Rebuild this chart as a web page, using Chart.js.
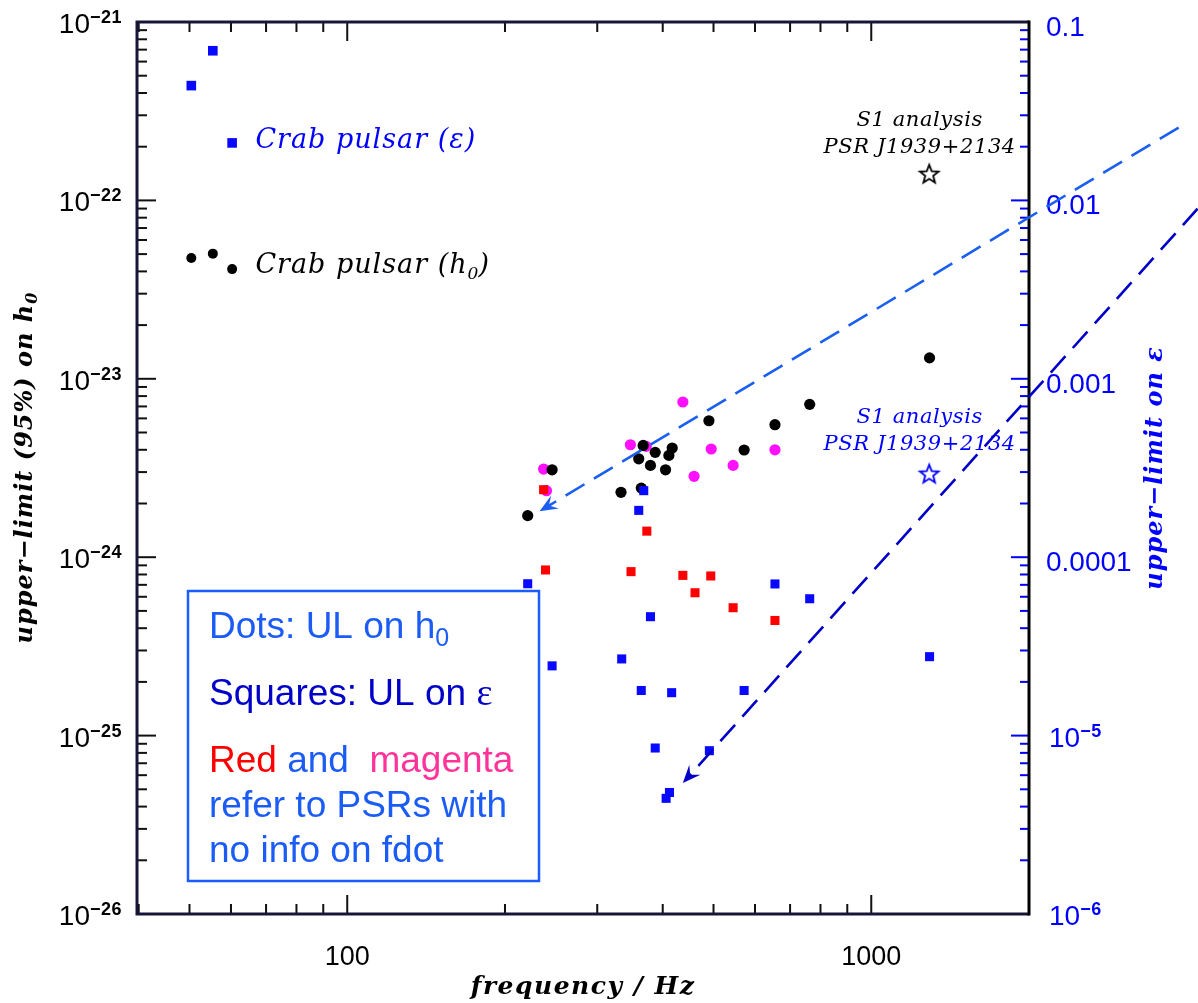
<!DOCTYPE html>
<html>
<head>
<meta charset="utf-8">
<script src="https://cdn.jsdelivr.net/npm/chart.js@4.4.0/dist/chart.umd.min.js"></script>
<style>
  body { margin: 0; background: #fff; }
  canvas { display: block; }
</style>
</head>
<body>
<canvas id="chart" width="1198" height="1003"></canvas>
<script>
// values: frequency in Hz, h0 upper limits, epsilon upper limits
const crabFreq = [50.4, 55.4, 60.3];
const crabH0 = [4.75e-23, 5.03e-23, 4.12e-23];
const crabEps = [0.044, 0.069, 0.021];

const dotFreq = [221, 246, 333, 364, 360, 367, 379, 387, 405, 411, 417, 490, 572, 655, 763, 1292];
const dotH0 = [1.71e-24, 3.09e-24, 2.31e-24, 2.44e-24, 3.56e-24, 4.23e-24, 3.27e-24, 3.87e-24,
               3.09e-24, 3.72e-24, 4.09e-24, 5.82e-24, 3.99e-24, 5.53e-24, 7.19e-24, 1.31e-23];

const magFreq = [237, 240, 347, 372, 437, 459, 495, 545, 655];
const magH0 = [3.12e-24, 2.36e-24, 4.27e-24, 4.18e-24, 7.41e-24, 2.84e-24, 4.04e-24, 3.27e-24, 4.00e-24];

const redFreq = [237, 373, 239, 348, 437, 494, 461, 545, 655];
const redEps = [2.39e-4, 1.40e-4, 8.48e-5, 8.30e-5, 7.91e-5, 7.85e-5, 6.32e-5, 5.21e-5, 4.42e-5];

const sqFreq = [368, 360, 221, 655, 763, 379, 246, 334, 364, 416, 572, 387, 491, 412, 406, 1292];
const sqEps = [2.36e-4, 1.83e-4, 7.10e-5, 7.08e-5, 5.85e-5, 4.64e-5, 2.46e-5, 2.69e-5,
               1.79e-5, 1.74e-5, 1.79e-5, 8.52e-6, 8.23e-6, 4.80e-6, 4.45e-6, 2.77e-5];

const s1Freq = [1290];
const s1H0 = [1.41e-22];
const s1Eps = [2.94e-4];

// axis ranges and labels
const freqRange = [39.7, 2000];
const h0Range = [1e-26, 1e-21];
const epsRange = [1e-6, 0.1];
const freqLabels = [100, 1000];
const h0Exponents = [-21, -22, -23, -24, -25, -26];
const epsValues = [0.1, 0.01, 0.001, 0.0001, 1e-5, 1e-6];
const epsLabels = ['0.1', '0.01', '0.001', '0.0001', '10^−5', '10^−6'];

// dashed arrows (data coords, h0 axis)
const arrowWide = [[3860, 2.56e-22], [232.8, 1.81e-24]];
const arrowSteep = [[4195, 8.98e-23], [437, 5.42e-26]];

const pts = (xs, ys) => xs.map((x, i) => ({ x: x, y: ys[i] }));

function starImage(color) {
  const c = document.createElement('canvas');
  c.width = 24; c.height = 24;
  const g = c.getContext('2d');
  g.strokeStyle = color;
  g.lineWidth = 1.8;
  g.beginPath();
  for (let i = 0; i < 10; i++) {
    const r = i % 2 ? 4.2 : 9.8;
    const a = -Math.PI / 2 + i * Math.PI / 5;
    const px = 12 + r * Math.cos(a), py = 12.8 + r * Math.sin(a);
    if (i) g.lineTo(px, py); else g.moveTo(px, py);
  }
  g.closePath();
  g.stroke();
  return c;
}

function logTicks(min, max) {
  const out = [];
  for (let e = Math.floor(Math.log10(min)); e <= Math.ceil(Math.log10(max)); e++) {
    for (let m = 1; m <= 9; m++) {
      const v = m * Math.pow(10, e);
      if (v >= min * 0.999 && v <= max * 1.001) out.push({ v: v, major: m === 1 });
    }
  }
  return out;
}

function drawArrow(ctx, x0, y0, x1, y1, color) {
  const ang = Math.atan2(y1 - y0, x1 - x0);
  const cos = Math.cos(ang), sin = Math.sin(ang);
  const L = 18, W = 7.5, N = 11;
  ctx.save();
  ctx.strokeStyle = color;
  ctx.fillStyle = color;
  ctx.lineWidth = 2.6;
  ctx.setLineDash([22, 11]);
  ctx.beginPath();
  ctx.moveTo(x0, y0);
  ctx.lineTo(x1 - cos * N, y1 - sin * N);
  ctx.stroke();
  ctx.setLineDash([]);
  const bx = x1 - cos * L, by = y1 - sin * L;
  ctx.beginPath();
  ctx.moveTo(x1, y1);
  ctx.lineTo(bx - sin * W, by + cos * W);
  ctx.lineTo(x1 - cos * N, y1 - sin * N);
  ctx.lineTo(bx + sin * W, by - cos * W);
  ctx.closePath();
  ctx.fill();
  ctx.restore();
}

// draws [text, font, dy, color, spacing] pieces one after another
function drawParts(ctx, x, y, parts, align) {
  let total = 0;
  parts.forEach(p => {
    ctx.font = p[1];
    ctx.letterSpacing = (p[4] || 0) + 'px';
    p.w = ctx.measureText(p[0]).width;
    total += p.w;
  });
  let xx = align === 'center' ? x - total / 2 : align === 'right' ? x - total : x;
  parts.forEach(p => {
    ctx.font = p[1];
    ctx.letterSpacing = (p[4] || 0) + 'px';
    ctx.fillStyle = p[3];
    ctx.fillText(p[0], xx, y + p[2]);
    xx += p.w;
  });
  ctx.letterSpacing = '0px';
}

const decor = {
  id: 'decor',
  afterDraw(chart) {
    const { ctx, chartArea: a, scales } = chart;
    const xs = scales.x, ys = scales.y, ys2 = scales.y2;
    ctx.save();
    ctx.textAlign = 'left';
    ctx.textBaseline = 'alphabetic';

    // inward tick marks
    ctx.lineWidth = 2;
    ctx.strokeStyle = '#111';
    logTicks(freqRange[0], freqRange[1]).forEach(t => {
      const px = xs.getPixelForValue(t.v);
      const len = t.major ? 19 : 10;
      ctx.beginPath();
      ctx.moveTo(px, a.bottom); ctx.lineTo(px, a.bottom - len);
      ctx.moveTo(px, a.top); ctx.lineTo(px, a.top + len);
      ctx.stroke();
    });
    logTicks(h0Range[0], h0Range[1]).forEach(t => {
      const py = ys.getPixelForValue(t.v);
      ctx.beginPath();
      ctx.moveTo(a.left, py); ctx.lineTo(a.left + (t.major ? 19 : 10), py);
      ctx.stroke();
    });
    ctx.strokeStyle = '#0000ff';
    logTicks(epsRange[0], epsRange[1]).forEach(t => {
      const py = ys2.getPixelForValue(t.v);
      ctx.beginPath();
      ctx.moveTo(a.right, py); ctx.lineTo(a.right - (t.major ? 18 : 9), py);
      ctx.stroke();
    });

    // frame
    ctx.lineWidth = 3;
    ctx.strokeStyle = '#16163a';
    ctx.beginPath();
    ctx.moveTo(a.right, a.top); ctx.lineTo(a.left, a.top);
    ctx.lineTo(a.left, a.bottom); ctx.lineTo(a.right, a.bottom);
    ctx.stroke();
    ctx.strokeStyle = '#000';
    ctx.beginPath();
    ctx.moveTo(a.right, a.top - 1.5); ctx.lineTo(a.right, a.bottom + 1.5);
    ctx.stroke();

    // left tick labels
    h0Exponents.forEach(e => {
      const py = ys.getPixelForValue(Math.pow(10, e));
      drawParts(ctx, 122, py + 11, [
        ['10', '28px "Liberation Sans"', 0, '#000'],
        ['−' + (-e), 'bold 18px "Liberation Sans"', -10, '#000', 0.5]
      ], 'right');
    });
    // right tick labels
    epsValues.forEach((v, i) => {
      const py = ys2.getPixelForValue(v);
      const lab = epsLabels[i].split('^');
      if (lab.length === 1) {
        drawParts(ctx, 1046, py + 14, [[lab[0], '28px "Liberation Sans"', 0, '#0000ff']], 'left');
      } else {
        drawParts(ctx, 1049, py + 11, [
          [lab[0], '28px "Liberation Sans"', 0, '#0000ff'],
          [lab[1], 'bold 18px "Liberation Sans"', -10, '#0000ff', 0.5]
        ], 'left');
      }
    });

    // axis titles
    drawParts(ctx, (a.left + a.right) / 2, 994, [
      ['frequency / Hz', 'italic bold 25px "DejaVu Serif"', 0, '#000', 1.5]
    ], 'center');

    ctx.save();
    ctx.translate(32, (a.top + a.bottom) / 2);
    ctx.rotate(-Math.PI / 2);
    drawParts(ctx, 0, 0, [
      ['upper−limit (95%) on h', 'italic bold 24px "DejaVu Serif"', 0, '#000', 1],
      ['0', 'italic bold 16px "DejaVu Serif"', 5, '#000']
    ], 'center');
    ctx.restore();

    ctx.save();
    ctx.translate(1162, (a.top + a.bottom) / 2);
    ctx.rotate(-Math.PI / 2);
    drawParts(ctx, 0, 0, [
      ['upper−limit on ε', 'italic bold 24px "DejaVu Serif"', 0, '#0000ff', 1]
    ], 'center');
    ctx.restore();

    // annotations
    const serif = 'italic 27px "DejaVu Serif"';
    drawParts(ctx, xs.getPixelForValue(66.8), ys.getPixelForValue(1.97e-22), [
      ['Crab pulsar (ε)', serif, 0, '#0000ff', 1]
    ], 'left');
    drawParts(ctx, xs.getPixelForValue(66.8), ys.getPixelForValue(3.93e-23), [
      ['Crab pulsar (h', serif, 0, '#000', 1],
      ['0', 'italic 17px "DejaVu Serif"', 6, '#000'],
      [')', serif, 0, '#000']
    ], 'left');
    const small = 'italic 21px "DejaVu Serif"';
    const sx = xs.getPixelForValue(1237);
    drawParts(ctx, sx, ys.getPixelForValue(2.62e-22), [['S1 analysis', small, 0, '#000', 0.6]], 'center');
    drawParts(ctx, sx, ys.getPixelForValue(1.85e-22), [['PSR J1939+2134', small, 0, '#000', 0.6]], 'center');
    drawParts(ctx, sx, ys.getPixelForValue(5.68e-24), [['S1 analysis', small, 0, '#0000ff', 0.6]], 'center');
    drawParts(ctx, sx, ys.getPixelForValue(4.0e-24), [['PSR J1939+2134', small, 0, '#0000ff', 0.6]], 'center');

    // dashed arrows
    drawArrow(ctx, xs.getPixelForValue(arrowWide[0][0]), ys.getPixelForValue(arrowWide[0][1]),
      xs.getPixelForValue(arrowWide[1][0]), ys.getPixelForValue(arrowWide[1][1]), '#1a5ff2');
    drawArrow(ctx, xs.getPixelForValue(arrowSteep[0][0]), ys.getPixelForValue(arrowSteep[0][1]),
      xs.getPixelForValue(arrowSteep[1][0]), ys.getPixelForValue(arrowSteep[1][1]), '#0000c8');

    // note box
    ctx.fillStyle = '#fff';
    ctx.fillRect(188, 591, 351, 290);
    ctx.lineWidth = 2.5;
    ctx.strokeStyle = '#1a5cff';
    ctx.strokeRect(188, 591, 351, 290);
    const f = '37px "Liberation Sans"';
    const lb = '#1a5cf5';
    drawParts(ctx, 209, 638, [['Dots: UL on h', f, 0, lb], ['0', '25px "Liberation Sans"', 8, lb]], 'left');
    drawParts(ctx, 209, 705, [['Squares: UL on ', f, 0, '#0000c8'], ['ε', '38px "Liberation Serif"', 0, '#0000c8']], 'left');
    drawParts(ctx, 209, 772, [['Red ', f, 0, '#ff0000'], ['and  ', f, 0, lb], ['magenta', f, 0, '#ff3399']], 'left');
    drawParts(ctx, 209, 817, [['refer to PSRs with', f, 0, lb]], 'left');
    drawParts(ctx, 209, 862, [['no info on fdot', f, 0, lb]], 'left');
    ctx.restore();
  }
};

new Chart(document.getElementById('chart'), {
  type: 'scatter',
  data: {
    datasets: [
      { label: 'S1 h0', data: pts(s1Freq, s1H0), yAxisID: 'y', pointStyle: starImage('#000'), order: 1 },
      { label: 'S1 eps', data: pts(s1Freq, s1Eps), yAxisID: 'y2', pointStyle: starImage('#0000ff'), order: 1 },
      { label: 'Squares eps', data: pts(sqFreq, sqEps), yAxisID: 'y2', pointStyle: 'rect',
        pointRadius: 6.4, pointBackgroundColor: '#0808ff', pointBorderWidth: 0, order: 2 },
      { label: 'Crab eps', data: pts(crabFreq, crabEps), yAxisID: 'y2', pointStyle: 'rect',
        pointRadius: 6.8, pointBackgroundColor: '#0808ff', pointBorderWidth: 0, order: 2 },
      { label: 'Red eps', data: pts(redFreq, redEps), yAxisID: 'y2', pointStyle: 'rect',
        pointRadius: 6.4, pointBackgroundColor: '#ff0000', pointBorderWidth: 0, order: 3 },
      { label: 'Dots h0', data: pts(dotFreq, dotH0), yAxisID: 'y', pointStyle: 'circle',
        pointRadius: 5.6, pointBackgroundColor: '#000', pointBorderWidth: 0, order: 4 },
      { label: 'Crab h0', data: pts(crabFreq, crabH0), yAxisID: 'y', pointStyle: 'circle',
        pointRadius: 5, pointBackgroundColor: '#000', pointBorderWidth: 0, order: 4 },
      { label: 'Magenta h0', data: pts(magFreq, magH0), yAxisID: 'y', pointStyle: 'circle',
        pointRadius: 5.6, pointBackgroundColor: '#ff10ff', pointBorderWidth: 0, order: 5 }
    ]
  },
  options: {
    responsive: false,
    animation: false,
    devicePixelRatio: 1,
    events: [],
    layout: { padding: { top: 22, left: 0, right: 0, bottom: 0 } },
    plugins: { legend: { display: false }, tooltip: { enabled: false } },
    scales: {
      x: {
        type: 'logarithmic', min: freqRange[0], max: freqRange[1],
        grid: { display: false }, border: { display: false },
        ticks: {
          autoSkip: false, maxRotation: 0, padding: 19, color: '#000',
          font: { family: 'Liberation Sans', size: 27 },
          callback: v => freqLabels.some(l => Math.abs(v - l) < 1e-6) ? String(Math.round(v)) : ''
        },
        afterFit: s => { s.height = 89; }
      },
      y: {
        type: 'logarithmic', position: 'left', min: h0Range[0], max: h0Range[1],
        grid: { display: false }, border: { display: false }, ticks: { display: false },
        afterFit: s => { s.width = 137; }
      },
      y2: {
        type: 'logarithmic', position: 'right', min: epsRange[0], max: epsRange[1],
        grid: { display: false }, border: { display: false }, ticks: { display: false },
        afterFit: s => { s.width = 169; }
      }
    }
  },
  plugins: [decor]
});
</script>
</body>
</html>
